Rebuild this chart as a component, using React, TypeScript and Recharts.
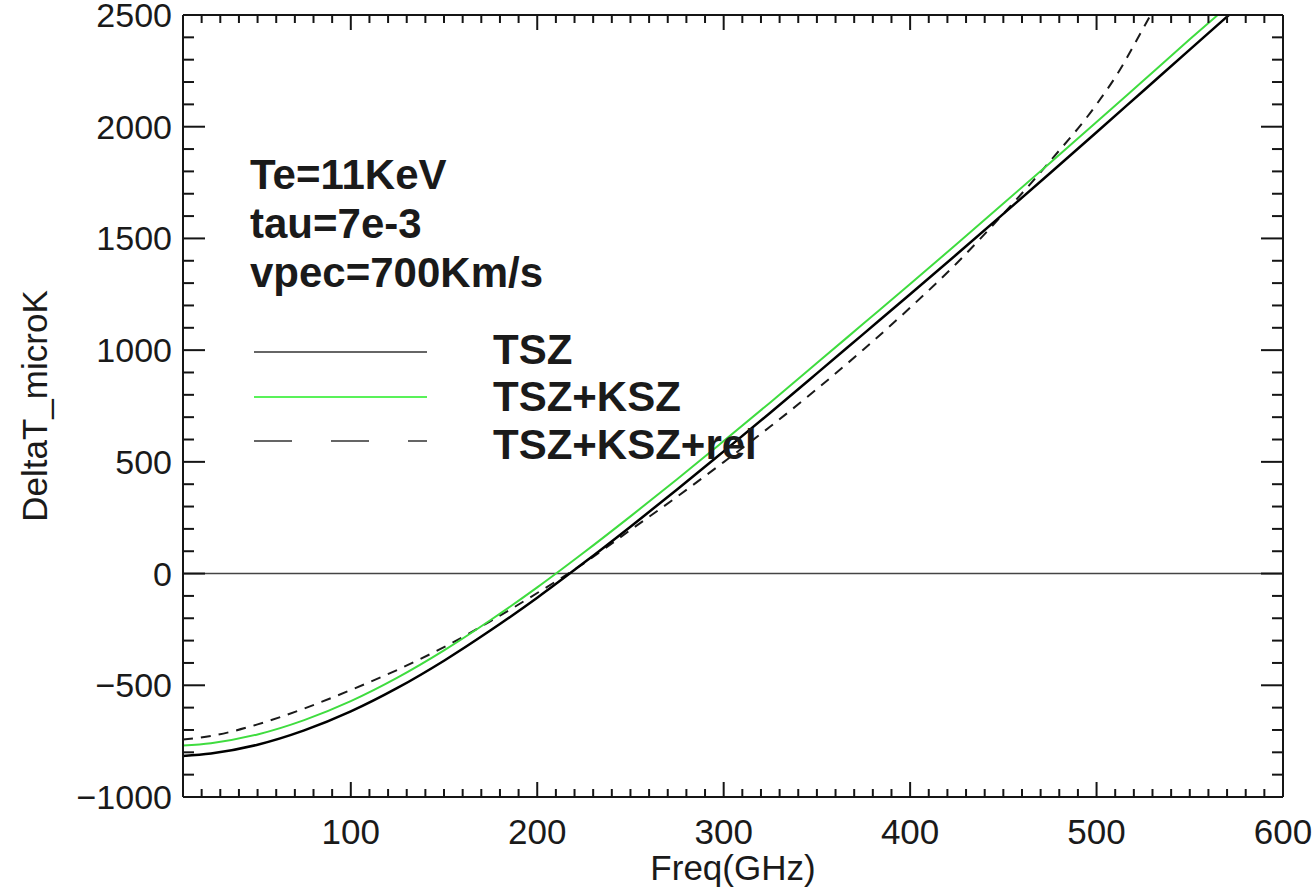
import React from 'react';
import { LineChart, Line, XAxis, YAxis, ReferenceLine } from 'recharts';

const FONT = '"Liberation Sans", Arial, Helvetica, sans-serif';

// TSZ (black solid)
const tszFreq = [10, 25, 50, 75, 100, 125, 150, 175, 200, 225, 250, 275, 300, 325, 350, 375, 400, 425, 450, 475, 500, 525, 550, 571];
const tszValues = [-816, -805, -766, -702, -617, -512, -390, -254, -108, 48, 210, 376, 547, 720, 896, 1073, 1250, 1429, 1610, 1792, 1975, 2160, 2345, 2500];

// TSZ+KSZ (green)
const kszFreq = [10, 25, 50, 75, 100, 125, 150, 175, 200, 225, 250, 275, 300, 325, 350, 375, 400, 425, 450, 475, 500, 525, 550, 565];
const kszValues = [-770, -759, -720, -656, -571, -466, -344, -208, -62, 94, 256, 422, 593, 766, 942, 1119, 1296, 1475, 1656, 1838, 2021, 2206, 2391, 2500];

// TSZ+KSZ+rel (dashed)
const relFreq = [10, 25, 50, 75, 100, 125, 150, 175, 200, 225, 250, 275, 300, 325, 350, 375, 400, 425, 450, 475, 500, 511, 525, 529];
const relValues = [-743, -727, -675, -604, -521, -431, -329, -213, -87, 46, 195, 344, 499, 658, 826, 1003, 1190, 1389, 1610, 1845, 2100, 2234, 2440, 2500];

const xMajorTicks = [100, 200, 300, 400, 500, 600];
const xMajorLabels = ['100', '200', '300', '400', '500', '600'];
const yMajorTicks = [-1000, -500, 0, 500, 1000, 1500, 2000, 2500];
const yMajorLabels = ['\u22121000', '\u2212500', '0', '500', '1000', '1500', '2000', '2500'];

const xAllTicks: number[] = [];
for (let v = 20; v <= 600; v += 10) xAllTicks.push(v);
const yAllTicks: number[] = [];
for (let v = -1000; v <= 2500; v += 100) yAllTicks.push(v);

const tszData = tszFreq.map((f, i) => ({ f, v: tszValues[i] }));
const kszData = kszFreq.map((f, i) => ({ f, v: kszValues[i] }));
const relData = relFreq.map((f, i) => ({ f, v: relValues[i] }));

const AXIS_COLOR = '#151515';
const TEXT_COLOR = '#1a1a1a';

function BottomTick(props: any) {
  const { x, y, payload } = props;
  const i = xMajorTicks.indexOf(payload.value);
  const major = i >= 0;
  return (
    <g>
      <line x1={x} y1={y} x2={x} y2={y - (major ? 15 : 8)} stroke={AXIS_COLOR} strokeWidth={2} />
      {major && (
        <text x={x} y={y + 47} textAnchor="middle" fontSize={35} fontFamily={FONT} fill={TEXT_COLOR}>
          {xMajorLabels[i]}
        </text>
      )}
    </g>
  );
}

function TopTick(props: any) {
  const { x, y, payload } = props;
  const major = xMajorTicks.indexOf(payload.value) >= 0;
  return <line x1={x} y1={y} x2={x} y2={y + (major ? 15 : 8)} stroke={AXIS_COLOR} strokeWidth={2} />;
}

function LeftTick(props: any) {
  const { x, y, payload } = props;
  const i = yMajorTicks.indexOf(payload.value);
  const major = i >= 0;
  return (
    <g>
      <line x1={x} y1={y} x2={x + (major ? 22 : 11)} y2={y} stroke={AXIS_COLOR} strokeWidth={2} />
      {major && (
        <text x={x - 11} y={y + 12} textAnchor="end" fontSize={34} fontFamily={FONT} fill={TEXT_COLOR}>
          {yMajorLabels[i]}
        </text>
      )}
    </g>
  );
}

function RightTick(props: any) {
  const { x, y, payload } = props;
  const major = yMajorTicks.indexOf(payload.value) >= 0;
  return <line x1={x} y1={y} x2={x - (major ? 22 : 11)} y2={y} stroke={AXIS_COLOR} strokeWidth={2} />;
}

export default function App() {
  return (
    <div style={{ position: 'absolute', left: 0, top: 0, width: 1315, height: 890, background: '#fff' }}>
      <LineChart width={1315} height={890} margin={{ top: 14, right: 31, bottom: 0, left: 0 }}>
        <XAxis
          xAxisId="b"
          type="number"
          dataKey="f"
          domain={[10, 600]}
          allowDataOverflow
          ticks={xAllTicks}
          interval={0}
          tick={(p: any) => <BottomTick {...p} />}
          tickLine={false}
          tickSize={0}
          tickMargin={0}
          height={93}
          axisLine={{ stroke: AXIS_COLOR, strokeWidth: 2 }}
        />
        <XAxis
          xAxisId="t"
          orientation="top"
          type="number"
          dataKey="f"
          domain={[10, 600]}
          allowDataOverflow
          ticks={xAllTicks}
          interval={0}
          tick={(p: any) => <TopTick {...p} />}
          tickLine={false}
          tickSize={0}
          tickMargin={0}
          height={1}
          axisLine={{ stroke: AXIS_COLOR, strokeWidth: 2 }}
        />
        <YAxis
          yAxisId="l"
          type="number"
          domain={[-1000, 2500]}
          allowDataOverflow
          ticks={yAllTicks}
          interval={0}
          tick={(p: any) => <LeftTick {...p} />}
          tickLine={false}
          tickSize={0}
          tickMargin={0}
          width={183}
          axisLine={{ stroke: AXIS_COLOR, strokeWidth: 2 }}
        />
        <YAxis
          yAxisId="r"
          orientation="right"
          type="number"
          domain={[-1000, 2500]}
          allowDataOverflow
          ticks={yAllTicks}
          interval={0}
          tick={(p: any) => <RightTick {...p} />}
          tickLine={false}
          tickSize={0}
          tickMargin={0}
          width={1}
          axisLine={{ stroke: AXIS_COLOR, strokeWidth: 2 }}
        />
        <ReferenceLine xAxisId="b" yAxisId="l" y={0} stroke="#444" strokeWidth={1.5} />
        <Line
          xAxisId="b"
          yAxisId="l"
          data={relData}
          dataKey="v"
          type="monotone"
          stroke="#1a1a1a"
          strokeWidth={2}
          strokeDasharray="10 8"
          dot={false}
          isAnimationActive={false}
        />
        <Line
          xAxisId="b"
          yAxisId="l"
          data={kszData}
          dataKey="v"
          type="monotone"
          stroke="#3fdc3f"
          strokeWidth={2}
          dot={false}
          isAnimationActive={false}
        />
        <Line
          xAxisId="b"
          yAxisId="l"
          data={tszData}
          dataKey="v"
          type="monotone"
          stroke="#000"
          strokeWidth={2.5}
          dot={false}
          isAnimationActive={false}
        />
      </LineChart>
      <svg
        width={1315}
        height={890}
        style={{ position: 'absolute', left: 0, top: 0, pointerEvents: 'none' }}
      >
        <g fontFamily={FONT} fontWeight="bold" fontSize={42} fill={TEXT_COLOR}>
          <text x={250} y={189}>Te=11KeV</text>
          <text x={250} y={238}>tau=7e-3</text>
          <text x={250} y={287}>vpec=700Km/s</text>
          <text x={493} y={364}>TSZ</text>
          <text x={493} y={411}>TSZ+KSZ</text>
          <text x={493} y={459}>TSZ+KSZ+rel</text>
        </g>
        <line x1={254} y1={352} x2={427} y2={352} stroke="#333" strokeWidth={1.5} />
        <line x1={254} y1={397} x2={427} y2={397} stroke="#22ee22" strokeWidth={1.5} />
        <line x1={254} y1={441} x2={427} y2={441} stroke="#333" strokeWidth={1.5} strokeDasharray="38 39" />
        <text x={733} y={880} textAnchor="middle" fontSize={35} fontFamily={FONT} fill={TEXT_COLOR}>
          Freq(GHz)
        </text>
        <text
          x={47}
          y={406}
          textAnchor="middle"
          fontSize={35}
          fontFamily={FONT}
          fill={TEXT_COLOR}
          transform="rotate(-90 47 406)"
        >
          DeltaT_microK
        </text>
      </svg>
    </div>
  );
}
